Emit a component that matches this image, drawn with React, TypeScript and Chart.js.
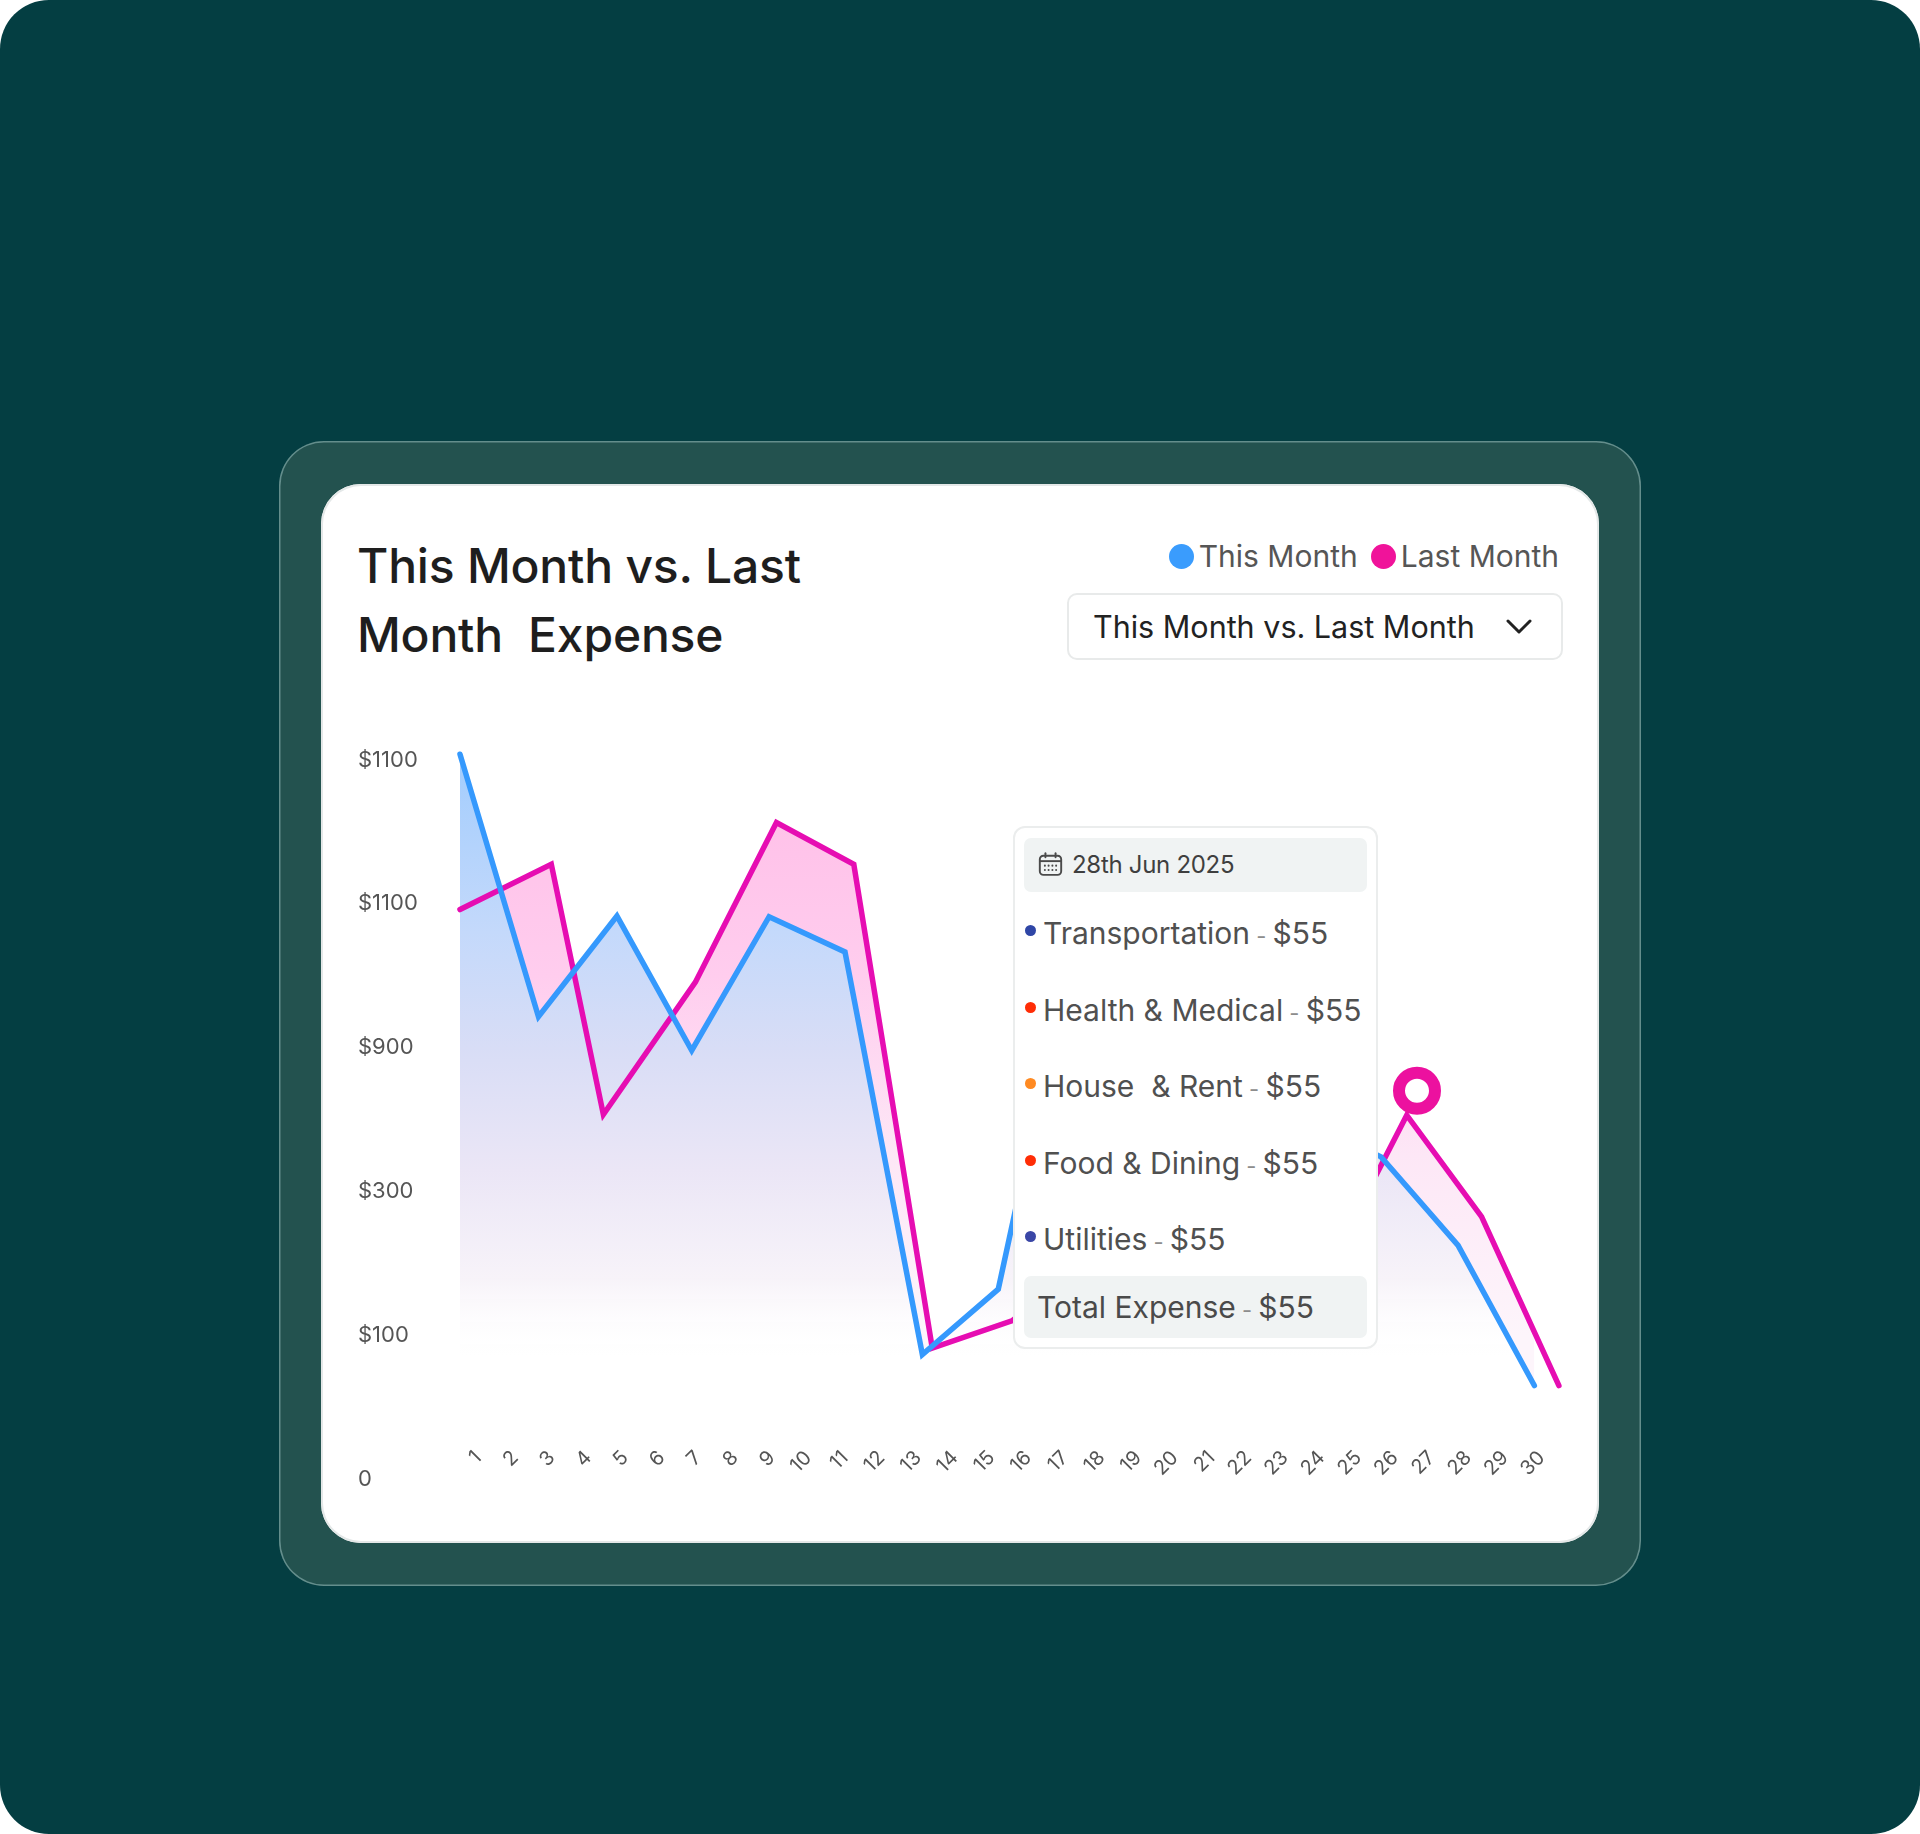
import React, { useEffect, useRef } from "react";
import { Chart, registerables } from "chart.js";

Chart.register(...registerables);

// x tick labels (days of the month)
const dayLabels = [
  "1", "2", "3", "4", "5", "6", "7", "8", "9", "10",
  "11", "12", "13", "14", "15", "16", "17", "18", "19", "20",
  "21", "22", "23", "24", "25", "26", "27", "28", "29", "30",
];

// y tick labels, bottom to top (as printed on the design)
const yTickLabels = ["0", "$100", "$300", "$900", "$1100", "$1100"];

// This Month series (x in days, y in axis units)
const thisMonthX = [0.5, 2.64, 4.78, 6.82, 8.93, 11.0, 13.11, 15.18, 17.29, 19.36, 21.44, 23.54, 25.62, 27.72, 29.8];
const thisMonthY = [1008, 643, 783, 596, 782, 733, 173, 264, 760, 640, 560, 500, 448, 325, 130];

// Last Month series
const lastMonthX = [0.5, 2.99, 4.41, 6.92, 9.13, 11.24, 13.38, 15.55, 17.62, 19.76, 21.9, 24.05, 26.32, 28.36, 30.47];
const lastMonthY = [792, 855, 507, 691, 913, 855, 182, 220, 300, 380, 340, 280, 506, 365, 130];

// hovered point marker
const markerX = [26.6];
const markerY = [540];

// tooltip content
const tooltipDate = "28th Jun 2025";
const tooltipRows = [
  { label: "Transportation", value: "$55", color: "#2f46a6" },
  { label: "Health & Medical", value: "$55", color: "#ff2d06" },
  { label: "House  & Rent", value: "$55", color: "#ff8a22" },
  { label: "Food & Dining", value: "$55", color: "#ff2d06" },
  { label: "Utilities", value: "$55", color: "#3a46a6" },
];
const totalLabel = "Total Expense";
const totalValue = "$55";

const BLUE = "#3599fd";
const PINK = "#e60db2";

const blueFill = (ctx: any) => {
  const { chart } = ctx;
  const area = chart.chartArea;
  if (!area) return "rgba(160,205,253,0.6)";
  const g = chart.ctx.createLinearGradient(0, area.top, 0, area.bottom);
  g.addColorStop(0, "#a3cdfd");
  g.addColorStop(0.24, "#c4d9fb");
  g.addColorStop(0.4, "#d8ddf6");
  g.addColorStop(0.57, "#ebe6f6");
  g.addColorStop(0.72, "#f7f3f9");
  g.addColorStop(0.84, "rgba(255,255,255,0)");
  return g;
};

const pinkFill = (ctx: any) => {
  const { chart } = ctx;
  const area = chart.chartArea;
  if (!area) return "rgba(255,200,235,0.8)";
  const g = chart.ctx.createLinearGradient(0, area.top, 0, area.bottom);
  g.addColorStop(0, "#ffbde7");
  g.addColorStop(0.3, "#ffcdee");
  g.addColorStop(0.55, "#fde7f6");
  g.addColorStop(0.8, "#fdf5fb");
  return g;
};

const CANVAS_W = 1232;
const CANVAS_H = 810;

const LineChart: React.FC = () => {
  const chartRef = useRef<HTMLCanvasElement>(null);

  useEffect(() => {
    if (!chartRef.current) return;
    const chart = new Chart(chartRef.current, {
      type: "line",
      data: {
        datasets: [
          {
            label: "This Month",
            data: thisMonthX.map((x, i) => ({ x, y: thisMonthY[i] })),
            borderColor: BLUE,
            backgroundColor: blueFill,
            borderWidth: 5.5,
            fill: "origin",
            pointRadius: 0,
            tension: 0,
            borderCapStyle: "round",
            borderJoinStyle: "miter",
            clip: false,
          },
          {
            label: "Last Month",
            data: lastMonthX.map((x, i) => ({ x, y: lastMonthY[i] })),
            borderColor: PINK,
            backgroundColor: pinkFill,
            borderWidth: 5.5,
            fill: { target: 0, below: "transparent" },
            pointRadius: 0,
            tension: 0,
            borderCapStyle: "round",
            borderJoinStyle: "miter",
            clip: false,
          },
          {
            label: "marker",
            data: markerX.map((x, i) => ({ x, y: markerY[i] })),
            showLine: false,
            fill: false,
            pointRadius: 18,
            pointBorderWidth: 12,
            pointBorderColor: "#ec119f",
            pointBackgroundColor: "#ffffff",
            clip: false,
            order: -1,
          },
        ],
      },
      options: {
        animation: false,
        responsive: false,
        events: [],
        layout: { padding: { top: 38, right: 12, bottom: 53, left: 0 } },
        plugins: {
          legend: { display: false },
          tooltip: { enabled: false },
          filler: { drawTime: "beforeDatasetsDraw" },
        } as any,
        scales: {
          x: {
            type: "linear",
            // axis sits on the zero line; day labels drawn just above it, over the fill
            position: { y: 0 } as any,
            min: 0.5,
            max: 30.5,
            bounds: "data",
            grid: { display: false },
            border: { display: false },
            afterBuildTicks: (axis: any) => {
              axis.ticks = dayLabels.map((_, i) => ({ value: i + 1 }));
            },
            ticks: {
              z: 1,
              autoSkip: false,
              minRotation: 45,
              maxRotation: 45,
              padding: -41,
              color: "#555555",
              font: { family: "Inter", size: 20 },
              callback: (_v: any, index: number) => dayLabels[index],
            },
          },
          y: {
            min: 0,
            max: 1000,
            grid: { display: false },
            border: { display: false },
            afterFit: (scale: any) => {
              scale.width = 102;
            },
            ticks: {
              stepSize: 200,
              crossAlign: "far",
              color: "#555555",
              font: { family: "Inter", size: 22 },
              callback: (_v: any, index: number) => yTickLabels[index],
            },
          },
        },
      },
    });
    return () => {
      chart.destroy();
    };
  }, []);

  return (
    <canvas
      ref={chartRef}
      width={CANVAS_W}
      height={CANVAS_H}
      style={{ position: "absolute", left: 37, top: 238, width: CANVAS_W, height: CANVAS_H }}
    />
  );
};

const CalendarIcon = () => (
  <svg width="27" height="27" viewBox="0 0 24 24" fill="none" stroke="#4a4a4a" strokeWidth="1.7">
    <rect x="2.5" y="4.2" width="19" height="17" rx="3.2" />
    <line x1="2.5" y1="9" x2="21.5" y2="9" />
    <line x1="7.5" y1="2" x2="7.5" y2="5.5" strokeLinecap="round" />
    <line x1="16.5" y1="2" x2="16.5" y2="5.5" strokeLinecap="round" />
    {[7, 10.3, 13.7, 17].map((cx) => (
      <circle key={"a" + cx} cx={cx} cy={13} r={0.9} fill="#4a4a4a" stroke="none" />
    ))}
    {[7, 10.3, 13.7, 17].map((cx) => (
      <circle key={"b" + cx} cx={cx} cy={16.8} r={0.9} fill="#4a4a4a" stroke="none" />
    ))}
  </svg>
);

const rowCenters = [107, 184, 260, 337, 413];

const Tooltip = () => (
  <div
    style={{
      position: "absolute",
      left: 692,
      top: 342,
      width: 365,
      height: 523,
      background: "#ffffff",
      borderRadius: 12,
      boxShadow: "inset 0 0 0 2px #ebeded",
    }}
  >
    <div
      style={{
        position: "absolute",
        left: 11,
        top: 12,
        width: 343,
        height: 54,
        background: "#f0f3f3",
        borderRadius: 7,
      }}
    >
      <div style={{ position: "absolute", left: 13, top: 13 }}>
        <CalendarIcon />
      </div>
      <div
        style={{
          position: "absolute",
          left: 48,
          top: 0,
          lineHeight: "54px",
          fontSize: 24,
          color: "#3f3f3f",
          letterSpacing: -0.3,
        }}
      >
        {tooltipDate}
      </div>
    </div>
    {tooltipRows.map((r, i) => (
      <div key={r.label} style={{ position: "absolute", left: 0, top: rowCenters[i] - 22, height: 44, width: 365 }}>
        <div
          style={{
            position: "absolute",
            left: 12,
            top: 14,
            width: 11,
            height: 11,
            borderRadius: "50%",
            background: r.color,
          }}
        />
        <div
          style={{
            position: "absolute",
            left: 30,
            top: 0,
            lineHeight: "44px",
            fontSize: 30,
            color: "#505050",
            whiteSpace: "pre",
          }}
        >
          {r.label}
          <span style={{ fontSize: 22, color: "#8d8d8d" }}> - </span>
          {r.value}
        </div>
      </div>
    ))}
    <div
      style={{
        position: "absolute",
        left: 11,
        top: 450,
        width: 343,
        height: 62,
        background: "#f0f3f3",
        borderRadius: 7,
      }}
    >
      <div
        style={{
          position: "absolute",
          left: 13,
          top: 0,
          lineHeight: "62px",
          fontSize: 30,
          color: "#4a4a4a",
          whiteSpace: "pre",
        }}
      >
        {totalLabel}
        <span style={{ fontSize: 22, color: "#8d8d8d" }}> - </span>
        {totalValue}
      </div>
    </div>
  </div>
);

const App: React.FC = () => {
  return (
    <div style={{ position: "absolute", left: 0, top: 0, width: 1920, height: 1834, background: "#ffffff" }}>
      <div
        style={{
          position: "absolute",
          left: 0,
          top: 0,
          width: 1920,
          height: 1834,
          background: "#043e42",
          borderRadius: 49,
        }}
      />
      <div
        style={{
          position: "absolute",
          left: 279,
          top: 441,
          width: 1362,
          height: 1145,
          borderRadius: 45,
          background: "#23524f",
          boxShadow: "inset 0 0 0 1.5px rgba(180,215,215,0.45)",
        }}
      />
      <div
        style={{
          position: "absolute",
          left: 321,
          top: 484,
          width: 1278,
          height: 1059,
          borderRadius: 40,
          background: "#ffffff",
          boxShadow: "inset 0 0 0 2px #e4e8e8",
          fontFamily: "Inter, 'Noto Sans', sans-serif",
        }}
      >
        <div
          style={{
            position: "absolute",
            left: 36,
            top: 48,
            fontSize: 48,
            lineHeight: "68.7px",
            fontWeight: 500,
            color: "#1e1e1e",
            whiteSpace: "pre",
            letterSpacing: -0.2,
          }}
        >
          {"This Month vs. Last\nMonth  Expense"}
        </div>

        <div
          style={{
            position: "absolute",
            right: 40,
            top: 54,
            height: 36,
            display: "flex",
            alignItems: "center",
            fontSize: 30,
            color: "#565656",
          }}
        >
          <span style={{ width: 25, height: 25, borderRadius: "50%", background: "#3a9cfd", marginRight: 5 }} />
          <span>This Month</span>
          <span
            style={{ width: 25, height: 25, borderRadius: "50%", background: "#f0139a", marginLeft: 13, marginRight: 5 }}
          />
          <span>Last Month</span>
        </div>

        <div
          style={{
            position: "absolute",
            left: 746,
            top: 109,
            width: 496,
            height: 67,
            boxSizing: "border-box",
            border: "2px solid #e8eaea",
            borderRadius: 10,
          }}
        >
          <div
            style={{
              position: "absolute",
              left: 24,
              top: 0,
              lineHeight: "63px",
              fontSize: 30.5,
              color: "#222222",
            }}
          >
            This Month vs. Last Month
          </div>
          <svg
            width="26"
            height="16"
            viewBox="0 0 26 16"
            style={{ position: "absolute", left: 437, top: 24 }}
          >
            <polyline
              points="2,2 13,13 24,2"
              fill="none"
              stroke="#222222"
              strokeWidth="3"
              strokeLinecap="round"
              strokeLinejoin="round"
            />
          </svg>
        </div>

        <LineChart />
        <Tooltip />
      </div>
    </div>
  );
};

export default App;
